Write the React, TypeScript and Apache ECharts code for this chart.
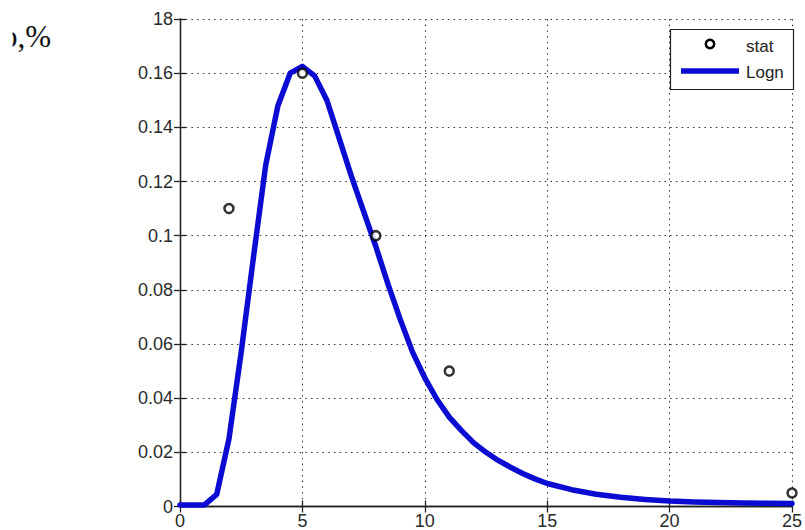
import React, { useEffect, useRef } from "react";
import * as echarts from "echarts";

// Observed points ("stat")
const statX = [2, 5, 8, 11, 25];
const statY = [0.11, 0.16, 0.1, 0.05, 0.005];

// Fitted curve ("Logn")
const lognX = [0, 0.5, 1, 1.5, 2, 2.5, 3, 3.5, 4, 4.5, 5, 5.5, 6, 6.5, 7, 7.5, 8, 8.5, 9, 9.5, 10, 10.5, 11, 11.5, 12, 12.5, 13, 13.5, 14, 14.5, 15, 16, 17, 18, 19, 20, 21, 22, 23, 24, 25];
const lognY = [0.0006, 0.0006, 0.0006, 0.0045, 0.025, 0.057, 0.092, 0.126, 0.148, 0.16, 0.1625, 0.159, 0.15, 0.136, 0.122, 0.109, 0.096, 0.082, 0.069, 0.057, 0.0475, 0.0395, 0.033, 0.028, 0.0235, 0.02, 0.017, 0.0145, 0.0122, 0.0102, 0.0085, 0.0062, 0.0045, 0.0034, 0.0026, 0.002, 0.0017, 0.0015, 0.0013, 0.0012, 0.0011];

const xMin = 0;
const xMax = 25;
const xStep = 5;
const yMin = 0;
const yMax = 0.18;
const yStep = 0.02;

const legendNames = ["stat", "Logn"];
const cornerLabel = "p,%";

const yLabel = (v: number) =>
  Math.abs(v - 0.18) < 1e-9 ? "18" : String(Number(v.toFixed(2)));

export default function App() {
  const ref = useRef<HTMLDivElement>(null);
  useEffect(() => {
    if (!ref.current) return;
    const chart = echarts.init(ref.current, null, { renderer: "svg" });
    const axisLineStyle = { color: "#222", width: 1.3 };
    const splitStyle = { color: "#333", width: 1, type: [1.5, 4.2] as any };
    const labelFont = {
      color: "#2a2a2a",
      fontSize: 18,
      fontFamily: '"Liberation Sans", Arial, sans-serif',
    };
    chart.setOption({
      animation: false,
      backgroundColor: "#ffffff",
      grid: { left: 180, right: 5, top: 19, bottom: 23.5, containLabel: false },
      xAxis: [
        {
          type: "value",
          min: xMin,
          max: xMax,
          interval: xStep,
          position: "bottom",
          axisLine: { show: true, lineStyle: axisLineStyle },
          axisTick: { show: true, inside: true, length: 6, lineStyle: axisLineStyle },
          axisLabel: { ...labelFont, margin: 5, showMaxLabel: true, showMinLabel: true },
          splitLine: { show: true, lineStyle: splitStyle },
        },
        {
          type: "value",
          min: xMin,
          max: xMax,
          interval: xStep,
          position: "top",
          axisLine: { show: true, lineStyle: axisLineStyle },
          axisTick: { show: true, inside: true, length: 6, lineStyle: axisLineStyle },
          axisLabel: { show: false },
          splitLine: { show: false },
        },
      ],
      yAxis: [
        {
          type: "value",
          min: yMin,
          max: yMax,
          interval: yStep,
          position: "left",
          axisLine: { show: true, lineStyle: axisLineStyle },
          axisTick: { show: true, inside: true, length: 6, lineStyle: axisLineStyle },
          axisLabel: { ...labelFont, margin: 7, formatter: yLabel, showMaxLabel: true, showMinLabel: true },
          splitLine: { show: true, lineStyle: splitStyle },
        },
        {
          type: "value",
          min: yMin,
          max: yMax,
          interval: yStep,
          position: "right",
          axisLine: { show: true, lineStyle: axisLineStyle },
          axisTick: { show: true, inside: true, length: 6, lineStyle: axisLineStyle },
          axisLabel: { show: false },
          splitLine: { show: false },
        },
      ],
      series: [
        {
          name: legendNames[1],
          type: "line",
          xAxisIndex: 0,
          yAxisIndex: 0,
          data: lognX.map((x, i) => [x, lognY[i]]),
          showSymbol: false,
          symbol: "none",
          smooth: false,
          lineStyle: { color: "#0b0bd2", width: 5.5, join: "round", cap: "round" },
          z: 3,
        },
        {
          name: legendNames[0],
          type: "scatter",
          xAxisIndex: 0,
          yAxisIndex: 0,
          data: statX.map((x, i) => [x, statY[i]]),
          symbol: "circle",
          symbolSize: 9,
          itemStyle: { color: "#ffffff", borderColor: "#000000", borderWidth: 2.5 },
          clip: false,
          z: 4,
        },
      ],
      graphic: [
        {
          type: "text",
          z: 100,
          x: 2,
          y: 36,
          style: {
            text: cornerLabel,
            font: '31px "Liberation Serif", "Times New Roman", serif',
            fill: "#111",
            verticalAlign: "middle",
          },
        },
        {
          type: "rect",
          z: 101,
          shape: { x: 0, y: 15, width: 12.5, height: 45 },
          style: { fill: "#ffffff" },
        },
        {
          type: "group",
          z: 100,
          children: [
            {
              type: "rect",
              z: 100,
              shape: { x: 670.5, y: 29.5, width: 123, height: 60 },
              style: { fill: "#ffffff", stroke: "#222", lineWidth: 1.2 },
            },
            {
              type: "circle",
              z: 101,
              shape: { cx: 710, cy: 44, r: 4.2 },
              style: { fill: "#ffffff", stroke: "#000", lineWidth: 2.5 },
            },
            {
              type: "text",
              z: 101,
              x: 746,
              y: 46,
              style: {
                text: legendNames[0],
                font: '17px "Liberation Sans", Arial, sans-serif',
                fill: "#222",
                verticalAlign: "middle",
              },
            },
            {
              type: "line",
              z: 101,
              shape: { x1: 681, y1: 71, x2: 739, y2: 71 },
              style: { stroke: "#0b0bd2", lineWidth: 5.5 },
            },
            {
              type: "text",
              z: 101,
              x: 746,
              y: 72,
              style: {
                text: legendNames[1],
                font: '17px "Liberation Sans", Arial, sans-serif',
                fill: "#222",
                verticalAlign: "middle",
              },
            },
          ],
        },
      ],
    });
    return () => chart.dispose();
  }, []);
  return (
    <div
      ref={ref}
      style={{ position: "absolute", left: 0, top: 0, width: 805, height: 530, background: "#fff" }}
    />
  );
}
